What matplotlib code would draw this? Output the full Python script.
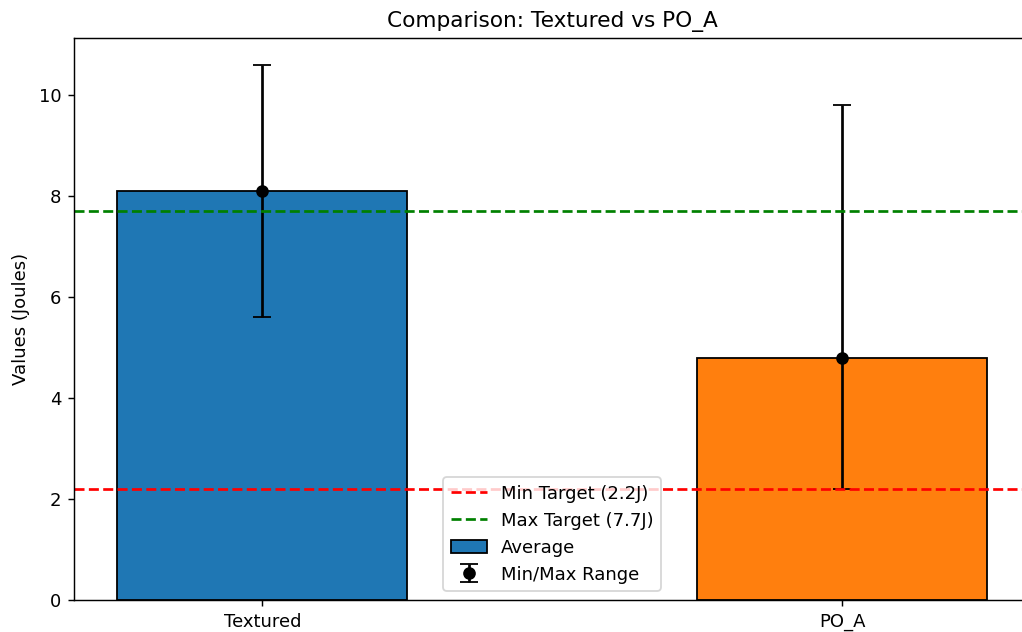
import numpy as np
import matplotlib.pyplot as plt

# energy values for the two samples (Joules)
categories = ['Textured', 'PO_A']
averages = [8.1, 4.8]
minimums = [5.6, 2.2]
maximums = [10.6, 9.8]
min_target = 2.2
max_target = 7.7

x = np.arange(len(categories))
avg = np.array(averages)
lower = avg - np.array(minimums)
upper = np.array(maximums) - avg

# drawn at 130 dpi so text and lines come out as large as in the original
dpi = 130
fig = plt.figure(figsize=(1022 / dpi, 632 / dpi), dpi=dpi)
# axes runs a bit past the right edge, like the cropped original
ax = fig.add_axes([0.0724, 0.0506, 0.936, 0.889])

ax.bar(x, avg, width=0.5, color=['#1f77b4', '#ff7f0e'], edgecolor='black', label='Average')
ax.errorbar(x, avg, yerr=[lower, upper], fmt='o', color='black', capsize=5,
            linewidth=1.5, label='Min/Max Range')
ax.axhline(min_target, color='red', linestyle='--', linewidth=1.5, label=f'Min Target ({min_target}J)')
ax.axhline(max_target, color='green', linestyle='--', linewidth=1.5, label=f'Max Target ({max_target}J)')

ax.set_xticks(x)
ax.set_xticklabels(categories)
ax.set_ylabel('Values (Joules)', labelpad=5)
ax.set_title('Comparison: Textured vs PO_A')
ax.legend(loc='lower center')

fig.savefig('out.png', dpi=dpi)
